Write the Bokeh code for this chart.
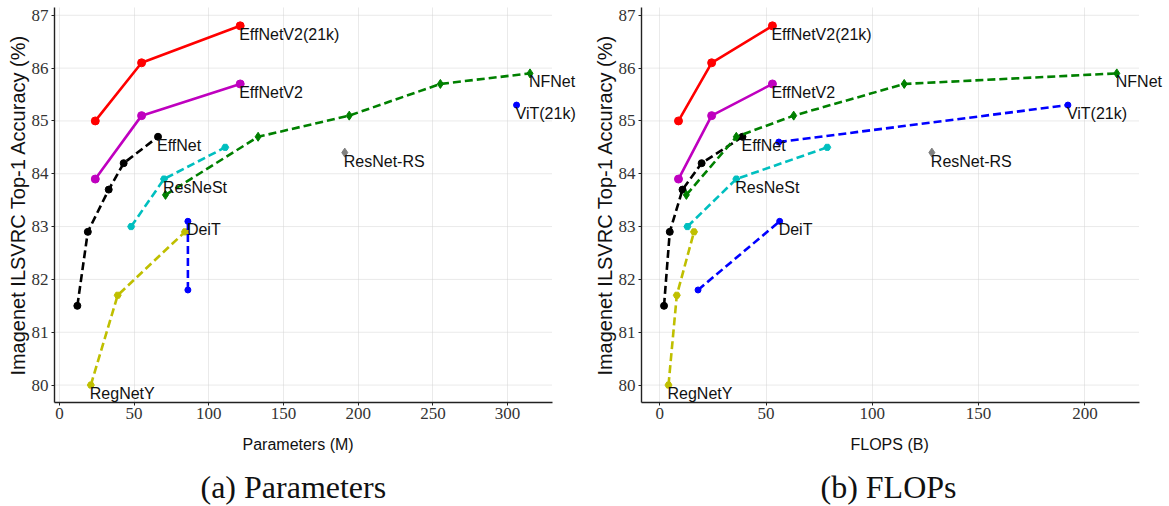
from bokeh.plotting import figure
from bokeh.layouts import row
from bokeh.models import Range1d, Title, FixedTicker, ColumnDataSource, LabelSet
from bokeh.core.properties import value
from bokeh.embed import file_html
from bokeh.resources import INLINE

# ---------------- data ----------------
# Top-1 accuracy (%)
effnetv2_21k_acc = [85.0, 86.1, 86.8]
effnetv2_acc = [83.9, 85.1, 85.7]
effnet_acc = [81.5, 82.9, 83.7, 84.2, 84.7]
resnest_acc = [83.0, 83.9, 84.5]
nfnet_acc = [83.6, 84.7, 85.1, 85.7, 85.9]
regnety_acc = [80.0, 81.7, 82.9]
deit_acc = [81.8, 83.1]
vit_params_acc = [85.3]
vit_flops_acc = [84.6, 85.3]
resnetrs_acc = [84.4]

# Parameters (M)
effnetv2_params = [24, 55, 121]
effnet_params = [12, 19, 33, 43, 66]
resnest_params = [48, 70, 111]
nfnet_params = [71, 133, 194, 255, 315]
regnety_params = [21, 39, 84]
deit_params = [86, 86]
vit_params = [306]
resnetrs_params = [191]

# FLOPS (B)
effnetv2_flops = [8.8, 24.4, 53]
effnet_flops = [2.0, 4.7, 10.7, 19.7, 38.9]
resnest_flops = [13, 36, 78.8]
nfnet_flops = [12.5, 36, 63, 115, 215]
regnety_flops = [4.1, 8, 16.1]
deit_flops = [18, 56.4]
vit_flops = [56, 192]
resnetrs_flops = [128]

acc_ticks = [80, 81, 82, 83, 84, 85, 86, 87]
param_ticks = [0, 50, 100, 150, 200, 250, 300]
flops_ticks = [0, 50, 100, 150, 200]

names = ["EffNetV2(21k)", "EffNetV2", "EffNet", "ResNeSt", "NFNet",
         "RegNetY", "DeiT", "ViT(21k)", "ResNet-RS"]
# index of the point that carries the label (-1 = last)
label_index = [-1, -1, -1, 1, -1, 0, -1, -1, -1]

styles = {
    "EffNetV2(21k)": dict(color="#ff0000", dash="solid", marker="circle", size=8),
    "EffNetV2": dict(color="#bf00bf", dash="solid", marker="circle", size=8),
    "EffNet": dict(color="#000000", dash="8 4", marker="circle", size=7),
    "ResNeSt": dict(color="#00bfbf", dash="8 4", marker="hex", size=7),
    "NFNet": dict(color="#008000", dash="8 4", marker="diamond", size=9),
    "RegNetY": dict(color="#bfbf00", dash="8 4", marker="hex", size=7),
    "DeiT": dict(color="#0000ff", dash="8 4", marker="circle", size=6),
    "ViT(21k)": dict(color="#0000ff", dash="8 4", marker="circle", size=6),
    "ResNet-RS": dict(color="#808080", dash="8 4", marker="diamond", size=9),
}

params_series = [effnetv2_params, effnetv2_params, effnet_params, resnest_params,
                 nfnet_params, regnety_params, deit_params, vit_params, resnetrs_params]
flops_series = [effnetv2_flops, effnetv2_flops, effnet_flops, resnest_flops,
                nfnet_flops, regnety_flops, deit_flops, vit_flops, resnetrs_flops]
acc_params = [effnetv2_21k_acc, effnetv2_acc, effnet_acc, resnest_acc, nfnet_acc,
              regnety_acc, deit_acc, vit_params_acc, resnetrs_acc]
acc_flops = [effnetv2_21k_acc, effnetv2_acc, effnet_acc, resnest_acc, nfnet_acc,
             regnety_acc, deit_acc, vit_flops_acc, resnetrs_acc]

Y_MIN, Y_MAX = 79.67, 87.147


def make_panel(xs_list, ys_list, xticks, x_axis_end, x_view, xlabel, xlabel_offset,
               caption, cap_offset, width, border_left):
    # x_view: visible range (extra room on the right so labels are not clipped)
    # x_axis_end: where the drawn axis / grid stop
    p = figure(width=width, height=506, output_backend="svg", toolbar_location=None,
               x_range=Range1d(*x_view), y_range=Range1d(Y_MIN, Y_MAX),
               min_border_left=border_left, min_border_right=0,
               min_border_top=7, min_border_bottom=103)
    p.outline_line_color = None
    p.background_fill_color = "white"
    p.border_fill_color = "white"

    p.xgrid.grid_line_color = "#d4d4d4"
    p.xgrid.grid_line_dash = "1 1"
    p.xgrid.grid_line_width = 1
    p.ygrid.grid_line_color = None
    # horizontal grid lines, stopping at the end of the x axis
    p.segment(x0=[x_view[0]] * len(acc_ticks), x1=[x_axis_end] * len(acc_ticks),
              y0=acc_ticks, y1=acc_ticks, line_color="#d4d4d4",
              line_dash="1 1", line_width=1)

    p.xaxis.ticker = FixedTicker(ticks=xticks)
    p.yaxis.ticker = FixedTicker(ticks=acc_ticks)
    p.xaxis.bounds = (x_view[0], x_axis_end)
    for ax in (p.xaxis, p.yaxis):
        ax.axis_line_color = "#222222"
        ax.axis_line_width = 1.4
        ax.major_tick_line_color = "#222222"
        ax.major_tick_in = 0
        ax.major_tick_out = 3
        ax.minor_tick_line_color = None
        ax.major_label_text_font = "Liberation Serif"
        ax.major_label_text_font_size = "17px"
        ax.major_label_text_color = "#333333"
        ax.axis_label_text_font = "Liberation Sans"
        ax.axis_label_text_font_style = "normal"
        ax.axis_label_text_color = "#111111"
    p.xaxis.major_label_standoff = 2
    p.yaxis.major_label_standoff = 3
    p.yaxis.axis_label = "Imagenet ILSVRC Top-1 Accuracy (%)"
    p.yaxis.axis_label_text_font_size = "20px"
    p.yaxis.axis_label_standoff = 0

    lx, ly, lt = [], [], []
    for name, xs, ys, li in zip(names, xs_list, ys_list, label_index):
        st = styles[name]
        if len(xs) > 1:
            p.line(xs, ys, line_color=st["color"], line_width=2.6,
                   line_dash=st["dash"])
        p.scatter(xs, ys, marker=st["marker"], size=st["size"],
                  fill_color=st["color"], line_color=st["color"])
        lx.append(xs[li])
        ly.append(ys[li])
        lt.append(name)
    src = ColumnDataSource(dict(x=lx, y=ly, t=lt))
    labels = LabelSet(x="x", y="y", text="t", source=src,
                      text_font=value("Liberation Sans"),
                      text_font_size=value("16px"), text_align="left",
                      text_baseline="top", text_color="#111111",
                      x_offset=-1, y_offset=0)
    p.add_layout(labels)

    # x axis title (positioned under the drawn part of the axis)
    xt = Title(text=xlabel, align="left", vertical_align="top",
               text_font="Liberation Sans", text_font_size="16px",
               text_font_style="normal", text_color="#111111",
               standoff=28, offset=xlabel_offset)
    p.add_layout(xt, "below")
    cap = Title(text=caption, align="left", vertical_align="top",
                text_font="Liberation Serif",
                text_font_size="32px", text_font_style="normal",
                text_color="#111111", standoff=0, offset=cap_offset)
    p.add_layout(cap, "below")
    return p


left = make_panel(params_series, acc_params, param_ticks, 330.0, (-3.3, 355.5),
                  "Parameters (M)", 188, "(a) Parameters", 146, 590, 54)
right = make_panel(flops_series, acc_flops, flops_ticks, 225.7, (-8.6, 239.8),
                   "FLOPS (B)", 209, "(b) FLOPs", 179, 579, 51)

layout = row(left, right)
open("out.html", "w").write(file_html(layout, INLINE))
